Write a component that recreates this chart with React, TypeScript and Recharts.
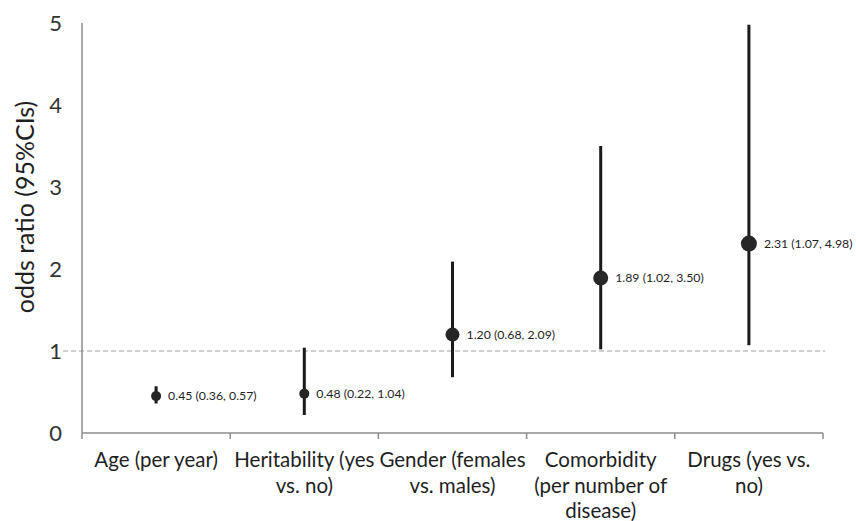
import { ComposedChart, Scatter, ErrorBar, XAxis, YAxis, ReferenceLine } from 'recharts';

const categories = [
  'Age (per year)',
  'Heritability (yes\nvs. no)',
  'Gender (females\nvs. males)',
  'Comorbidity\n(per number of\ndisease)',
  'Drugs (yes vs.\nno)',
];
const oddsRatio = [0.45, 0.48, 1.2, 1.89, 2.31];
const ciLow = [0.36, 0.22, 0.68, 1.02, 1.07];
const ciHigh = [0.57, 1.04, 2.09, 3.5, 4.98];
const yTicks = [0, 1, 2, 3, 4, 5];

// marker radius per row (style only)
const markerRadius = [5, 5, 7, 7.5, 8];

const data = categories.map((name, i) => ({
  x: i + 0.5,
  name,
  or: oddsRatio[i],
  lo: ciLow[i],
  hi: ciHigh[i],
  err: [oddsRatio[i] - ciLow[i], ciHigh[i] - oddsRatio[i]],
  r: markerRadius[i],
}));

const xTicks = categories.flatMap((_, i) => [i, i + 0.5]).concat(categories.length);

const FONT = 'Lato, "Open Sans", sans-serif';
const fmt = (v: number) => v.toFixed(2);

const CategoryTick = (props: any) => {
  const { x, y, payload } = props;
  const v = payload.value;
  if (Number.isInteger(v)) {
    return <line x1={x} y1={y} x2={x} y2={y + 6} stroke="#8c8c8c" strokeWidth={1.5} />;
  }
  const lines = categories[Math.floor(v)].split('\n');
  return (
    <text x={x} y={y + 34} textAnchor="middle" fontFamily={FONT} fontSize={20.5} fill="#1f1f1f">
      {lines.map((l, k) => (
        <tspan key={k} x={x} dy={k === 0 ? 0 : 25.5}>{l}</tspan>
      ))}
    </text>
  );
};

const Marker = (props: any) => {
  const { cx, cy, payload } = props;
  return (
    <g>
      <circle cx={cx} cy={cy} r={payload.r} fill="#262626" />
      <text x={cx + payload.r + 7} y={cy + 4} fontFamily={FONT} fontSize={12.3} fill="#1f1f1f">
        {`${fmt(payload.or)} (${fmt(payload.lo)}, ${fmt(payload.hi)})`}
      </text>
    </g>
  );
};

export default function App() {
  return (
    <div style={{ position: 'absolute', left: 0, top: 0, background: '#fff' }}>
      <ComposedChart
        width={856}
        height={521}
        data={data}
        margin={{ top: 23, right: 33, bottom: 0, left: 22 }}
      >
        <XAxis
          dataKey="x"
          type="number"
          domain={[0, categories.length]}
          ticks={xTicks}
          interval={0}
          tickLine={false}
          tickSize={0}
          tickMargin={0}
          height={88}
          axisLine={{ stroke: '#8c8c8c', strokeWidth: 1.5 }}
          tick={<CategoryTick />}
        />
        <YAxis
          dataKey="or"
          type="number"
          domain={[0, 5]}
          ticks={yTicks}
          width={60}
          tickLine={false}
          tickSize={0}
          tickMargin={20}
          axisLine={{ stroke: '#8c8c8c', strokeWidth: 1.5 }}
          tick={{ fontFamily: FONT, fontSize: 22, fill: '#333' }}
          label={{
            content: (p: any) => {
              const vb = p.viewBox;
              const cx = vb.x + 2;
              const cy = vb.y + vb.height / 2 - 21;
              return (
                <text
                  x={cx}
                  y={cy}
                  transform={`rotate(-90, ${cx}, ${cy})`}
                  textAnchor="middle"
                  dominantBaseline="central"
                  fontFamily={FONT}
                  fontSize={25}
                  fill="#1f1f1f"
                >
                  odds ratio (95%CIs)
                </text>
              );
            },
          }}
        />
        <ReferenceLine
          y={1}
          ifOverflow="visible"
          shape={(p: any) => (
            <line x1={p.x1 - 19} y1={p.y1} x2={p.x2 + 2} y2={p.y2} stroke="#a0a0a0" strokeWidth={1.2} strokeDasharray="5 3" />
          )}
        />
        <Scatter dataKey="or" isAnimationActive={false} shape={<Marker />}>
          <ErrorBar dataKey="err" direction="y" width={0} stroke="#1a1a1a" strokeWidth={3} />
        </Scatter>
      </ComposedChart>
    </div>
  );
}
